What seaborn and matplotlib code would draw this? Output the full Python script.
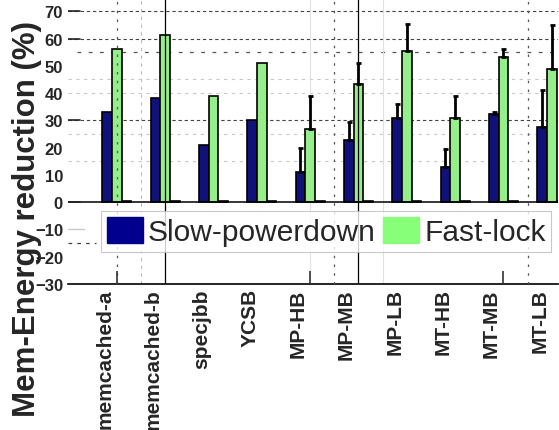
import numpy as np
import pandas as pd
import matplotlib
matplotlib.use("Agg")
import matplotlib.pyplot as plt
import matplotlib.transforms as mtransforms
from matplotlib.patches import Patch
import seaborn as sns

# Benchmarks and per-series memory-energy reduction (%)
benchmarks = ["memcached-a", "memcached-b", "specjbb", "YCSB", "MP-HB",
              "MP-MB", "MP-LB", "MT-HB", "MT-MB", "MT-LB"]
slow_powerdown = [33.0, 38.2, 21.0, 30.3, 11.0, 22.7, 30.9, 12.8, 32.4, 27.5]
fast_lock = [56.0, 61.4, 39.0, 51.0, 27.0, 43.4, 55.3, 30.9, 53.3, 48.9]
baseline = [0.5] * 10
# upper error extents (one-sided)
slow_err = [0, 0, 0, 0, 9.0, 6.6, 5.1, 6.7, 0.8, 13.8]
fast_err = [0, 0, 0, 0, 11.9, 7.6, 10.1, 8.1, 2.9, 15.9]

series_names = ["Slow-powerdown", "Fast-lock", "Baseline"]
series_colors = ["#00008C", "#88FF78", "#333333"]
y_ticks = [70, 60, 50, 40, 30, 20, 10, 0, -10, -20, -30]

sns.set_style("white")
plt.rcParams["font.family"] = ["Liberation Sans", "DejaVu Sans"]

df = pd.DataFrame({
    "benchmark": benchmarks * 3,
    "value": slow_powerdown + fast_lock + baseline,
    "series": sum([[s] * len(benchmarks) for s in series_names], []),
})

W, H = 559, 431
fig = plt.figure(figsize=(W / 100, H / 100), dpi=100)
ax = fig.add_axes([68 / W, 1 - 285 / H, (558 - 68) / W, 285 / H])

sns.barplot(data=df, x="benchmark", y="value", hue="series",
            order=benchmarks, hue_order=series_names,
            palette=series_colors, width=0.6, edgecolor="black",
            linewidth=1.2, errorbar=None, legend=False, ax=ax, zorder=3)

ax.set_xlim(-1.01, 9.13)
ax.set_ylim(-30, 74.5)
ax.set_yticks(y_ticks)

# horizontal reference lines
for v in [70, 60, 30]:
    ax.axhline(v, color="#444444", lw=0.8, dashes=(3, 2.5), zorder=1)
    ax.axhline(v, xmin=0, xmax=12 / 490, color="#222222", lw=1.2, zorder=1)
ax.axhline(55, xmin=9 / 490, color="#555555", lw=0.9, dashes=(3, 6), zorder=1)
for v in [45, 40, 25, 15]:
    ax.axhline(v, color="#c8c8c8", lw=0.8, dashes=(3, 4), zorder=1)
ax.axhline(-10, xmin=0, xmax=16 / 490, color="#c8c8c8", lw=1.0, zorder=1)
ax.axhline(-15, xmin=0, xmax=28 / 490, color="#444444", lw=0.9, dashes=(3, 4), zorder=1)
ax.axhline(0, color="black", lw=1.1, zorder=4)
ax.axhline(0, xmin=0, xmax=12 / 490, color="#222222", lw=1.2, zorder=4)

# vertical reference lines
for xv in [1, 5]:
    ax.axvline(xv, color="black", lw=0.9, zorder=5)
for xv in [0, 4.5, 8.5]:
    ax.axvline(xv, color="#555555", lw=0.9, dashes=(2, 5), zorder=5)
ax.axvline(0.5, color="#bbbbbb", lw=0.8, dashes=(3, 4), zorder=1)
for xv in [4, 5.5]:
    ax.axvline(xv, color="#e0e0e0", lw=0.8, zorder=1)
ax.vlines([0, 4, 8], -30, -25.2, color="#333333", lw=1.2, zorder=5)

# one-sided error bars
for cont, errs in zip(ax.containers[:2], [slow_err, fast_err]):
    for bar, e in zip(cont, errs):
        if e > 0:
            xc = bar.get_x() + bar.get_width() / 2
            top = bar.get_height()
            ax.errorbar(xc, top, yerr=[[0], [e]], fmt="none", ecolor="black",
                        elinewidth=2.0, capsize=1.8, capthick=2.0, zorder=6)

for s in ["left", "top", "right"]:
    ax.spines[s].set_visible(False)
ax.spines["bottom"].set_color("black")
ax.spines["bottom"].set_linewidth(1.2)

ax.set_xlabel("")
ax.tick_params(axis="x", length=0, pad=3)
ax.tick_params(axis="y", length=0, pad=3.6)
ax.set_xticks(range(len(benchmarks)))
ax.set_xticklabels(benchmarks, rotation=90, fontsize=15, fontweight="bold")
shift = mtransforms.ScaledTranslation(-0.12, 0, fig.dpi_scale_trans)
for lbl in ax.get_xticklabels():
    lbl.set_transform(lbl.get_transform() + shift)
for lbl in ax.get_yticklabels():
    lbl.set_fontsize(12)
    lbl.set_fontweight("bold")

ax.set_ylabel("Mem-Energy reduction (%)", fontsize=22.5, fontweight="bold",
              rotation=90, rotation_mode="anchor", ha="center", va="baseline")
ax.yaxis.set_label_coords(35 / W, 1 - 219 / H, transform=fig.transFigure)

handles = [Patch(facecolor=c, edgecolor=c) for c in series_colors[:2]]
leg = fig.legend(handles, series_names[:2], loc="upper left",
                 bbox_to_anchor=(101 / W, 1 - 212 / H), ncol=2, fontsize=21.5,
                 frameon=True, fancybox=False, edgecolor="#bbbbbb",
                 borderpad=0.2, handlelength=1.2, handleheight=0.95,
                 handletextpad=0.17, columnspacing=0.25, borderaxespad=0)
leg.get_frame().set_linewidth(0.8)
leg.set_zorder(10)

fig.savefig("out.png", dpi=100)
